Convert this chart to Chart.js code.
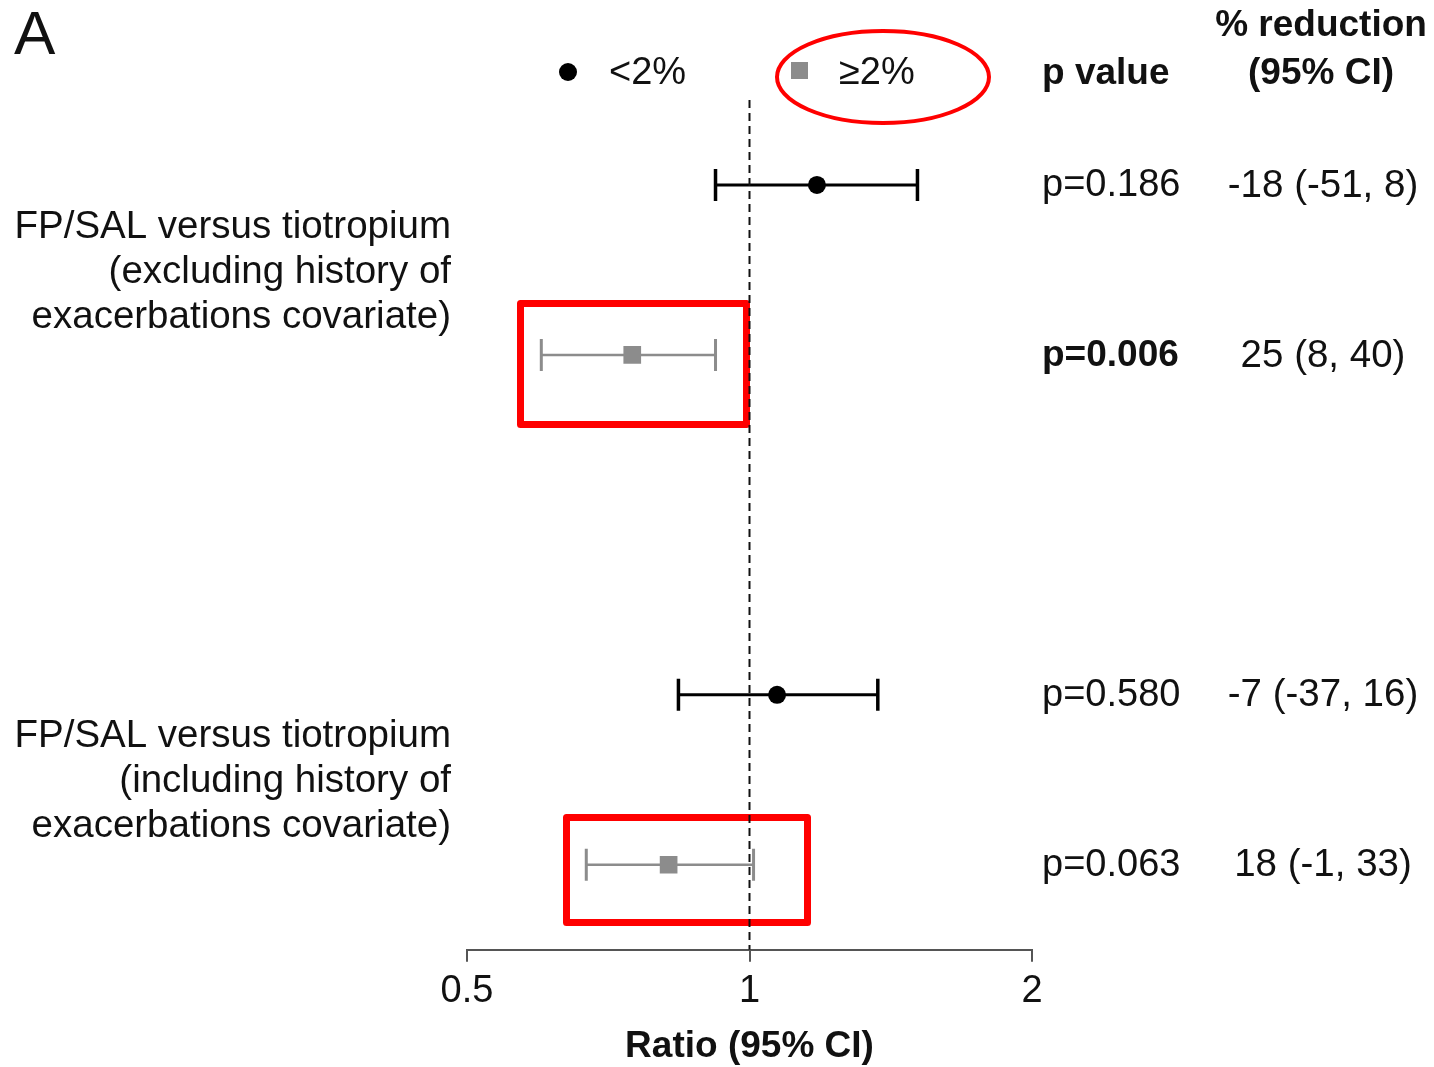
<!DOCTYPE html>
<html>
<head>
<meta charset="utf-8">
<script src="https://cdn.jsdelivr.net/npm/chart.js@4.4.1/dist/chart.umd.min.js"></script>
<style>
  html, body { margin: 0; padding: 0; background: #fff; }
  #wrap { width: 1434px; height: 1067px; position: relative; }
</style>
</head>
<body>
<div id="wrap"><canvas id="forest"></canvas></div>
<script>
// rows in plot order (top -> bottom); the gap row at 3 separates the two comparisons
const rowPos = [1, 2, 4, 5];
const subgroup = ["<2%", "≥2%", "<2%", "≥2%"];
const ratio = [1.18, 0.75, 1.07, 0.82];
const ciLow = [0.92, 0.60, 0.84, 0.67];
const ciHigh = [1.51, 0.92, 1.37, 1.01];
const pValues = ["p=0.186", "p=0.006", "p=0.580", "p=0.063"];
const pBold = [false, true, false, false];
const reductions = ["-18 (-51, 8)", "25 (8, 40)", "-7 (-37, 16)", "18 (-1, 33)"];

const groupMid = [1.5, 4.5];
const groupLabels = [
  ["FP/SAL versus tiotropium", "(excluding history of", "exacerbations covariate)"],
  ["FP/SAL versus tiotropium", "(including history of", "exacerbations covariate)"],
];
const xTicks = [0.5, 1, 2];

const FONT = "'Liberation Sans', Arial, Helvetica, sans-serif";
const BLACK = "#000";
const GREY = "#8c8c8c";
const RED = "#ff0000";
const colorOf = (g) => (g === "<2%" ? BLACK : GREY);

const datasets = [];

// reference line at ratio = 1
datasets.push({
  data: [{ x: 1, y: 0.5 }, { x: 1, y: 5.5 }],
  showLine: true,
  borderColor: "#111",
  borderWidth: 2,
  borderDash: [8, 5],
  pointRadius: 0,
});

// confidence intervals with end caps
rowPos.forEach((y, i) => {
  const c = colorOf(subgroup[i]);
  const black = subgroup[i] === "<2%";
  datasets.push({
    data: [{ x: ciLow[i], y }, { x: ciHigh[i], y }],
    showLine: true,
    borderColor: c,
    borderWidth: black ? 3 : 2.5,
    pointStyle: "line",
    rotation: 90,
    pointRadius: 16,
    pointBorderColor: c,
    pointBorderWidth: black ? 3.5 : 3,
  });
});

// point estimates
rowPos.forEach((y, i) => {
  const black = subgroup[i] === "<2%";
  datasets.push({
    data: [{ x: ratio[i], y }],
    pointStyle: black ? "circle" : "rect",
    pointRadius: black ? 9 : 12.5,
    pointBackgroundColor: colorOf(subgroup[i]),
    pointBorderWidth: 0,
  });
});

const textPlugin = {
  id: "forestText",
  beforeDatasetsDraw(chart) {
    const ctx = chart.ctx;
    ctx.save();
    ctx.strokeStyle = RED;
    // highlight boxes round the >=2% rows
    ctx.lineWidth = 7;
    ctx.lineJoin = "round";
    ctx.strokeRect(520.5, 303.5, 226, 121);
    ctx.strokeRect(566.5, 817.5, 241, 105);
    // ellipse round the >=2% legend entry
    ctx.lineWidth = 4;
    ctx.beginPath();
    ctx.ellipse(883, 77, 106, 46, 0, 0, Math.PI * 2);
    ctx.stroke();
    ctx.restore();
  },
  afterDraw(chart) {
    const ctx = chart.ctx;
    const y = chart.scales.y;
    ctx.save();
    ctx.textBaseline = "middle";
    ctx.fillStyle = "#111";

    ctx.font = `62px ${FONT}`;
    ctx.textAlign = "left";
    ctx.fillText("A", 14, 37);

    // legend
    ctx.fillStyle = BLACK;
    ctx.beginPath();
    ctx.arc(568, 72, 9, 0, Math.PI * 2);
    ctx.fill();
    ctx.fillStyle = GREY;
    ctx.fillRect(791, 62, 17, 17);
    ctx.fillStyle = "#111";
    ctx.font = `38px ${FONT}`;
    ctx.fillText("<2%", 609, 74);
    ctx.fillText("≥2%", 839, 74);

    // column headers
    ctx.font = `bold 37px ${FONT}`;
    ctx.fillText("p value", 1042, 74);
    ctx.textAlign = "center";
    ctx.fillText("% reduction", 1321, 26);
    ctx.fillText("(95% CI)", 1321, 74);

    // comparison labels
    ctx.font = `38.5px ${FONT}`;
    ctx.textAlign = "right";
    groupLabels.forEach((lines, g) => {
      const yc = y.getPixelForValue(groupMid[g]) + 2;
      lines.forEach((t, k) => ctx.fillText(t, 451, yc + (k - 1) * 45));
    });

    // p values and % reduction
    rowPos.forEach((r, i) => {
      const yp = y.getPixelForValue(r) + 1;
      ctx.textAlign = "left";
      ctx.font = `${pBold[i] ? "bold 37px" : "38px"} ${FONT}`;
      ctx.fillText(pValues[i], 1042, yp);
      ctx.textAlign = "center";
      ctx.font = `38.5px ${FONT}`;
      ctx.fillText(reductions[i], 1323, yp);
    });
    ctx.restore();
  },
};

new Chart(document.getElementById("forest"), {
  type: "scatter",
  data: { datasets },
  plugins: [textPlugin],
  options: {
    responsive: true,
    maintainAspectRatio: false,
    animation: false,
    events: [],
    layout: { padding: { left: 467, right: 402, top: 100, bottom: 0 } },
    plugins: { legend: { display: false }, tooltip: { enabled: false } },
    scales: {
      x: {
        type: "logarithmic",
        min: 0.5,
        max: 2,
        afterBuildTicks: (s) => { s.ticks = xTicks.map((v) => ({ value: v })); },
        ticks: {
          callback: (v) => String(v),
          font: { family: FONT, size: 38 },
          color: "#111",
          padding: 7,
          maxRotation: 0,
          autoSkip: false,
        },
        grid: { display: true, drawOnChartArea: false, tickLength: 12, color: "#555", lineWidth: 2 },
        border: { display: true, color: "#555", width: 2 },
        title: {
          display: true,
          text: "Ratio (95% CI)",
          font: { family: FONT, size: 37, weight: "bold", lineHeight: 1.1 },
          color: "#111",
          padding: { top: 5, bottom: 0 },
        },
      },
      y: { type: "linear", min: 0.5, max: 5.5, reverse: true, display: false },
    },
  },
});
</script>
</body>
</html>
